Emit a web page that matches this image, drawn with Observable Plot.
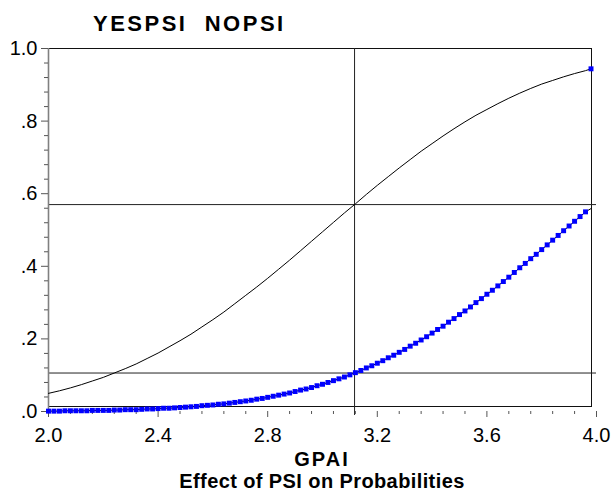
<!DOCTYPE html>
<html><head><meta charset="utf-8">
<script src="https://cdn.jsdelivr.net/npm/d3@7"></script>
<script src="https://cdn.jsdelivr.net/npm/@observablehq/plot@0.6"></script>
<style>
body{margin:0;background:#fff;}
#wrap{position:relative;width:613px;height:493px;font-family:"Liberation Sans",Arial,sans-serif;overflow:hidden;}
#chart svg{display:block;}
.t{position:absolute;font-weight:bold;line-height:1;white-space:pre;color:#000;}
</style></head><body>
<div id="wrap">
<div id="chart"></div>
<div class="t" style="left:93px;top:13px;font-size:22px;letter-spacing:2.5px;">YESPSI  NOPSI</div>
<div class="t" style="left:0;width:644px;text-align:center;top:448.5px;font-size:20px;letter-spacing:2px;">GPAI</div>
<div class="t" style="left:0;width:644px;text-align:center;top:470.8px;font-size:20px;letter-spacing:0.4px;">Effect of PSI on Probabilities</div>
</div>
<script>
// GPA grid for the NOPSI (marker) series
const gpaFine = [
  2.00,2.02,2.04,2.06,2.08,2.10,2.12,2.14,2.16,2.18,
  2.20,2.22,2.24,2.26,2.28,2.30,2.32,2.34,2.36,2.38,
  2.40,2.42,2.44,2.46,2.48,2.50,2.52,2.54,2.56,2.58,
  2.60,2.62,2.64,2.66,2.68,2.70,2.72,2.74,2.76,2.78,
  2.80,2.82,2.84,2.86,2.88,2.90,2.92,2.94,2.96,2.98,
  3.00,3.02,3.04,3.06,3.08,3.10,3.12,3.14,3.16,3.18,
  3.20,3.22,3.24,3.26,3.28,3.30,3.32,3.34,3.36,3.38,
  3.40,3.42,3.44,3.46,3.48,3.50,3.52,3.54,3.56,3.58,
  3.60,3.62,3.64,3.66,3.68,3.70,3.72,3.74,3.76,3.78,
  3.80,3.82,3.84,3.86,3.88,3.90,3.92,3.94,3.96,3.98
];
const nopsi = [
  0.001,0.001,0.001,0.002,0.002,0.002,0.002,0.002,0.003,0.003,
  0.003,0.003,0.004,0.004,0.005,0.005,0.005,0.006,0.007,0.007,
  0.008,0.009,0.009,0.010,0.011,0.012,0.013,0.014,0.016,0.017,
  0.018,0.020,0.021,0.023,0.025,0.027,0.029,0.031,0.034,0.036,
  0.039,0.042,0.045,0.048,0.051,0.055,0.059,0.062,0.066,0.071,
  0.075,0.080,0.085,0.090,0.095,0.101,0.107,0.113,0.120,0.126,
  0.133,0.140,0.148,0.155,0.163,0.171,0.180,0.188,0.197,0.206,
  0.216,0.226,0.235,0.246,0.256,0.267,0.277,0.288,0.300,0.311,
  0.323,0.334,0.346,0.358,0.370,0.383,0.396,0.408,0.421,0.433,
  0.446,0.459,0.472,0.485,0.498,0.511,0.524,0.537,0.550,0.559
];
// GPA grid for the YESPSI line
const gpaCoarse = [
  2.00,2.04,2.08,2.12,2.16,2.20,2.24,2.28,2.32,2.36,
  2.40,2.44,2.48,2.52,2.56,2.60,2.64,2.68,2.72,2.76,
  2.80,2.84,2.88,2.92,2.96,3.00,3.04,3.08,3.12,3.16,
  3.20,3.24,3.28,3.32,3.36,3.40,3.44,3.48,3.52,3.56,
  3.60,3.64,3.68,3.72,3.76,3.80,3.84,3.88,3.92,3.96,
  3.98
];
const yespsi = [
  0.050,0.057,0.065,0.074,0.084,0.094,0.106,0.118,0.131,0.146,
  0.161,0.178,0.195,0.213,0.233,0.253,0.274,0.297,0.320,0.343,
  0.367,0.392,0.417,0.443,0.469,0.495,0.521,0.547,0.572,0.598,
  0.623,0.647,0.671,0.694,0.717,0.738,0.759,0.779,0.798,0.816,
  0.832,0.848,0.863,0.877,0.890,0.902,0.912,0.922,0.931,0.939,
  0.944
];
// reference lines at mean GPA
const meanGPA = 3.117;
const refProbs = [0.570, 0.106];

const xTicks = [2.0, 2.4, 2.8, 3.2, 3.6, 4.0];
const xTickLabels = ["2.0", "2.4", "2.8", "3.2", "3.6", "4.0"];
const xMinor = [2.08,2.16,2.24,2.32,2.48,2.56,2.64,2.72,2.88,2.96,3.04,3.12,3.28,3.36,3.44,3.52,3.68,3.76,3.84,3.92];
const yTicks = [0, 0.2, 0.4, 0.6, 0.8, 1.0];
const yTickLabels = [".0", ".2", ".4", ".6", ".8", "1.0"];
const yMinor = [0.04,0.08,0.12,0.16,0.24,0.28,0.32,0.36,0.44,0.48,0.52,0.56,0.64,0.68,0.72,0.76,0.84,0.88,0.92,0.96];

const noData = gpaFine.map((g, i) => ({gpa: g, p: nopsi[i]}));
const yesData = gpaCoarse.map((g, i) => ({gpa: g, p: yespsi[i]}));
const xLab = new Map(xTicks.map((t, i) => [t, xTickLabels[i]]));
const yLab = new Map(yTicks.map((t, i) => [t, yTickLabels[i]]));

const chart = Plot.plot({
  width: 613, height: 493,
  marginTop: 48, marginBottom: 82, marginLeft: 48, marginRight: 17,
  x: {domain: [2, 4]},
  y: {domain: [0, 1]},
  style: {fontFamily: "'Liberation Sans', Arial, sans-serif", fontSize: "20px", color: "#000", background: "#fff", overflow: "visible"},
  marks: [
    Plot.frame({insetRight: 5, insetBottom: 5, stroke: "#111"}),
    Plot.ruleY(refProbs, {stroke: "#222", strokeWidth: 1}),
    Plot.ruleX([meanGPA], {stroke: "#222", strokeWidth: 1, insetBottom: -4}),
    Plot.ruleX([2], {stroke: "#808080", strokeWidth: 1.6}),
    Plot.axisY({ticks: yMinor, tickSize: 4, tickFormat: () => "", label: null, stroke: "#555"}),
    Plot.axisY({ticks: yTicks, tickSize: 7, tickPadding: 4, tickFormat: d => yLab.get(d), label: null, stroke: "#555", fill: "#000"}),
    Plot.axisX({ticks: xMinor, tickSize: 3, tickFormat: () => "", label: null, stroke: "#555"}),
    Plot.axisX({ticks: xTicks, tickSize: 6, tickPadding: 10, tickFormat: d => xLab.get(d), label: null, stroke: "#555", fill: "#000"}),
    Plot.line(yesData, {x: "gpa", y: "p", stroke: "#000", strokeWidth: 1}),
    Plot.line(noData, {x: "gpa", y: "p", stroke: "#000", strokeWidth: 1}),
    Plot.dot(noData.slice(0, -1), {x: "gpa", y: "p", symbol: "square", r: 2.8, fill: "#0000ff", stroke: "none"}),
    Plot.dot(yesData.slice(-1), {x: "gpa", y: "p", symbol: "square", r: 2.8, fill: "#0000ff", stroke: "none"})
  ]
});
document.getElementById("chart").appendChild(chart);
</script>
</body></html>
